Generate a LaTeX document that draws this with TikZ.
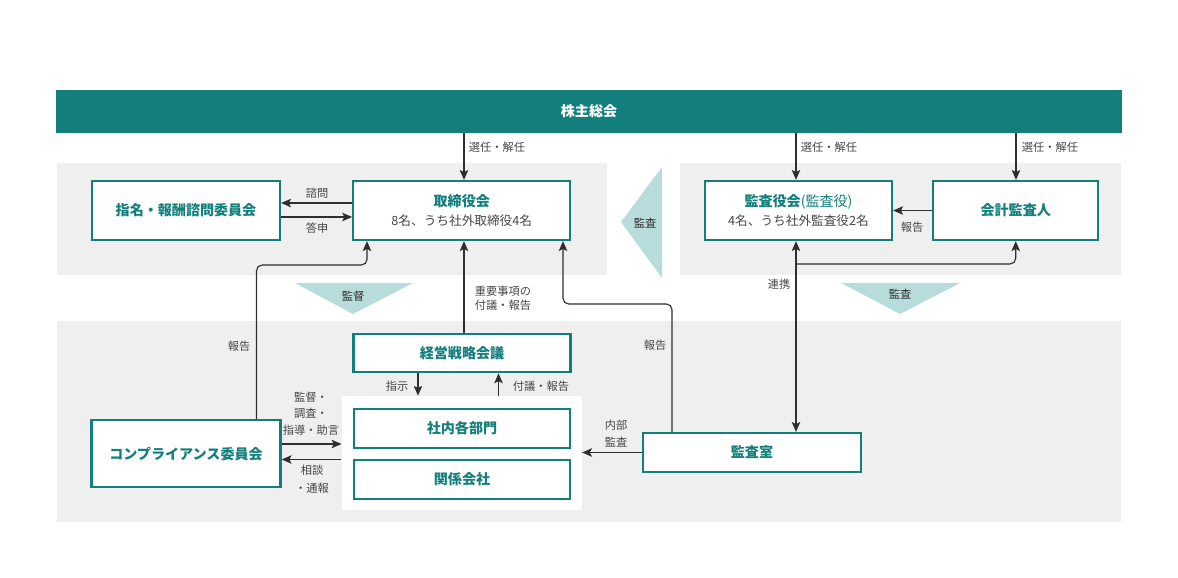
\documentclass[tikz,border=0pt]{standalone}
\usepackage{fontspec}
\setmainfont{Noto Sans CJK JP}
\usetikzlibrary{arrows.meta}
\definecolor{kteal}{HTML}{127F7C}
\definecolor{kpale}{HTML}{B7DCDB}
\definecolor{kband}{HTML}{EFEFEF}
\definecolor{ktext}{HTML}{474747}
\definecolor{kline}{HTML}{2E2E2E}
\newcommand{\subtxt}{\mdseries\fontsize{9}{11}\selectfont\color{ktext}}
\tikzstyle{band}=[fill=kband]
\tikzstyle{wedge}=[fill=kpale]
\tikzstyle{org}=[draw=kteal, line width=1.6pt, fill=white, inner sep=0pt, text=kteal, align=center, font=\fontsize{10}{12}\selectfont\bfseries]
\tikzstyle{lbl}=[text=ktext, inner sep=1pt, align=center, font=\fontsize{8}{11.6}\selectfont]
\tikzstyle{flow}=[draw=kline, line width=0.8pt, -{Stealth[length=7pt,width=6pt,inset=1.5pt]}]

\begin{document}
\begin{tikzpicture}[x=0.025cm, y=-0.025cm]
	\useasboundingbox (0,0) rectangle (1178,578);
	\path[band] (57,163) rectangle (607,275);
	\path[band] (680,163) rectangle (1121,275);
	\path[band] (57,321) rectangle (1121,522);
	\path[wedge] (621,222) -- (662,167) -- (662,278) -- cycle;
	\path[wedge] (295,283) -- (413,283) -- (353,314) -- cycle;
	\path[wedge] (841,283) -- (960,283) -- (900,314) -- cycle;
	\node[lbl, text=kline] (wkansa1) at (645,223) {監査};
	\node[lbl, text=kline] (wkantoku) at (353,296) {監督};
	\node[lbl, text=kline] (wkansa2) at (900,294) {監査};

	\node[fill=kteal, text=white, minimum width=26.65cm, minimum height=1.075cm, font=\fontsize{10}{12}\selectfont\bfseries] (kabu) at (589,111.5) {株主総会};
	\node[fill=white, minimum width=6.0cm, minimum height=2.85cm] (gunit) at (461.8,453) {};

	\node[org, minimum width=4.7cm, minimum height=1.475cm] (nomi) at (186,210.5) {指名・報酬諮問委員会};
	\node[org, minimum width=5.425cm, minimum height=1.475cm] (board) at (461.75,210.5) {取締役会\\[2pt]{\subtxt 8名、うち社外取締役4名}};
	\node[org, minimum width=4.675cm, minimum height=1.475cm] (kansayaku) at (798.5,210.5) {監査役会{\mdseries (監査役)}\\[2pt]{\subtxt 4名、うち社外監査役2名}};
	\node[org, minimum width=4.125cm, minimum height=1.475cm] (kaikei) at (1015.75,210.5) {会計監査人};
	\node[org, minimum width=5.425cm, minimum height=0.95cm] (senryaku) at (462,353.25) {経営戦略会議};
	\node[org, minimum width=5.4cm, minimum height=0.975cm] (shanai) at (462,428.5) {社内各部門};
	\node[org, minimum width=5.4cm, minimum height=0.975cm] (kankei) at (462,479.5) {関係会社};
	\node[org, minimum width=4.725cm, minimum height=1.675cm] (comp) at (186,453.75) {コンプライアンス委員会};
	\node[org, minimum width=5.45cm, minimum height=0.975cm] (kansashitsu) at (752,452.5) {監査室};

	\draw[flow] (kabu.south -| 464,0) -- (board.north -| 464,0);
	\draw[flow] (kabu.south -| 796,0) -- (kansayaku.north -| 796,0);
	\draw[flow] (kabu.south -| 1016,0) -- (kaikei.north -| 1016,0);
	\draw[flow] (board.west |- 0,203) -- (nomi.east |- 0,203);
	\draw[flow] (nomi.east |- 0,217) -- (board.west |- 0,217);
	\draw[flow] (kaikei.west) -- (kansayaku.east);
	\draw[flow, {Stealth[length=7pt,width=6pt,inset=1.5pt]}-{Stealth[length=7pt,width=6pt,inset=1.5pt]}] (kansayaku.south -| 796,0) -- (kansashitsu.north -| 796,0);
	\coordinate (renkei) at (796,264);
	\draw[flow, rounded corners=4pt] (renkei) -| (kaikei.south);
	\draw[flow, rounded corners=4pt] (comp.north -| 256.5,0) |- (367,265) -- (board.south -| 367,0);
	\draw[flow] (senryaku.north -| 464,0) -- (board.south -| 464,0);
	\draw[flow, rounded corners=4pt] (kansashitsu.north -| 672,0) |- (563,304) -- (board.south -| 563,0);
	\draw[flow] (senryaku.south -| 418,0) -- (gunit.north -| 418,0);
	\draw[flow] (gunit.north -| 498.5,0) -- (senryaku.south -| 498.5,0);
	\draw[flow] (comp.east |- 0,444) -- (gunit.west |- 0,444);
	\draw[flow] (gunit.west |- 0,459.5) -- (comp.east |- 0,459.5);
	\draw[flow] (kansashitsu.west |- 0,452.5) -- (gunit.east |- 0,452.5);

	\node[lbl] (lsennin1) at (497,147) {選任・解任};
	\node[lbl] (lsennin2) at (829,147) {選任・解任};
	\node[lbl] (lsennin3) at (1050,147) {選任・解任};
	\node[lbl] (lshimon) at (317,193) {諮問};
	\node[lbl] (ltoushin) at (317,228) {答申};
	\node[lbl] (lhoukoku1) at (912,227) {報告};
	\node[lbl] (lrenkei) at (779,284) {連携};
	\node[lbl, font=\fontsize{8}{10}\selectfont] (ljuuyou) at (503,298) {重要事項の\\付議・報告};
	\node[lbl] (lhoukoku2) at (239,346) {報告};
	\node[lbl] (lhoukoku3) at (655,345) {報告};
	\node[lbl] (lshiji) at (397,386) {指示};
	\node[lbl] (lfugi) at (541,386) {付議・報告};
	\node[lbl] (lkantoku) at (311,413.5) {監督・\\調査・\\指導・助言};
	\node[lbl, font=\fontsize{8}{12.8}\selectfont] (lsoudan) at (312,479) {相談\\・通報};
	\node[lbl, font=\fontsize{8}{12}\selectfont] (lnaibu) at (616,433.5) {内部\\監査};
\end{tikzpicture}
\end{document}
